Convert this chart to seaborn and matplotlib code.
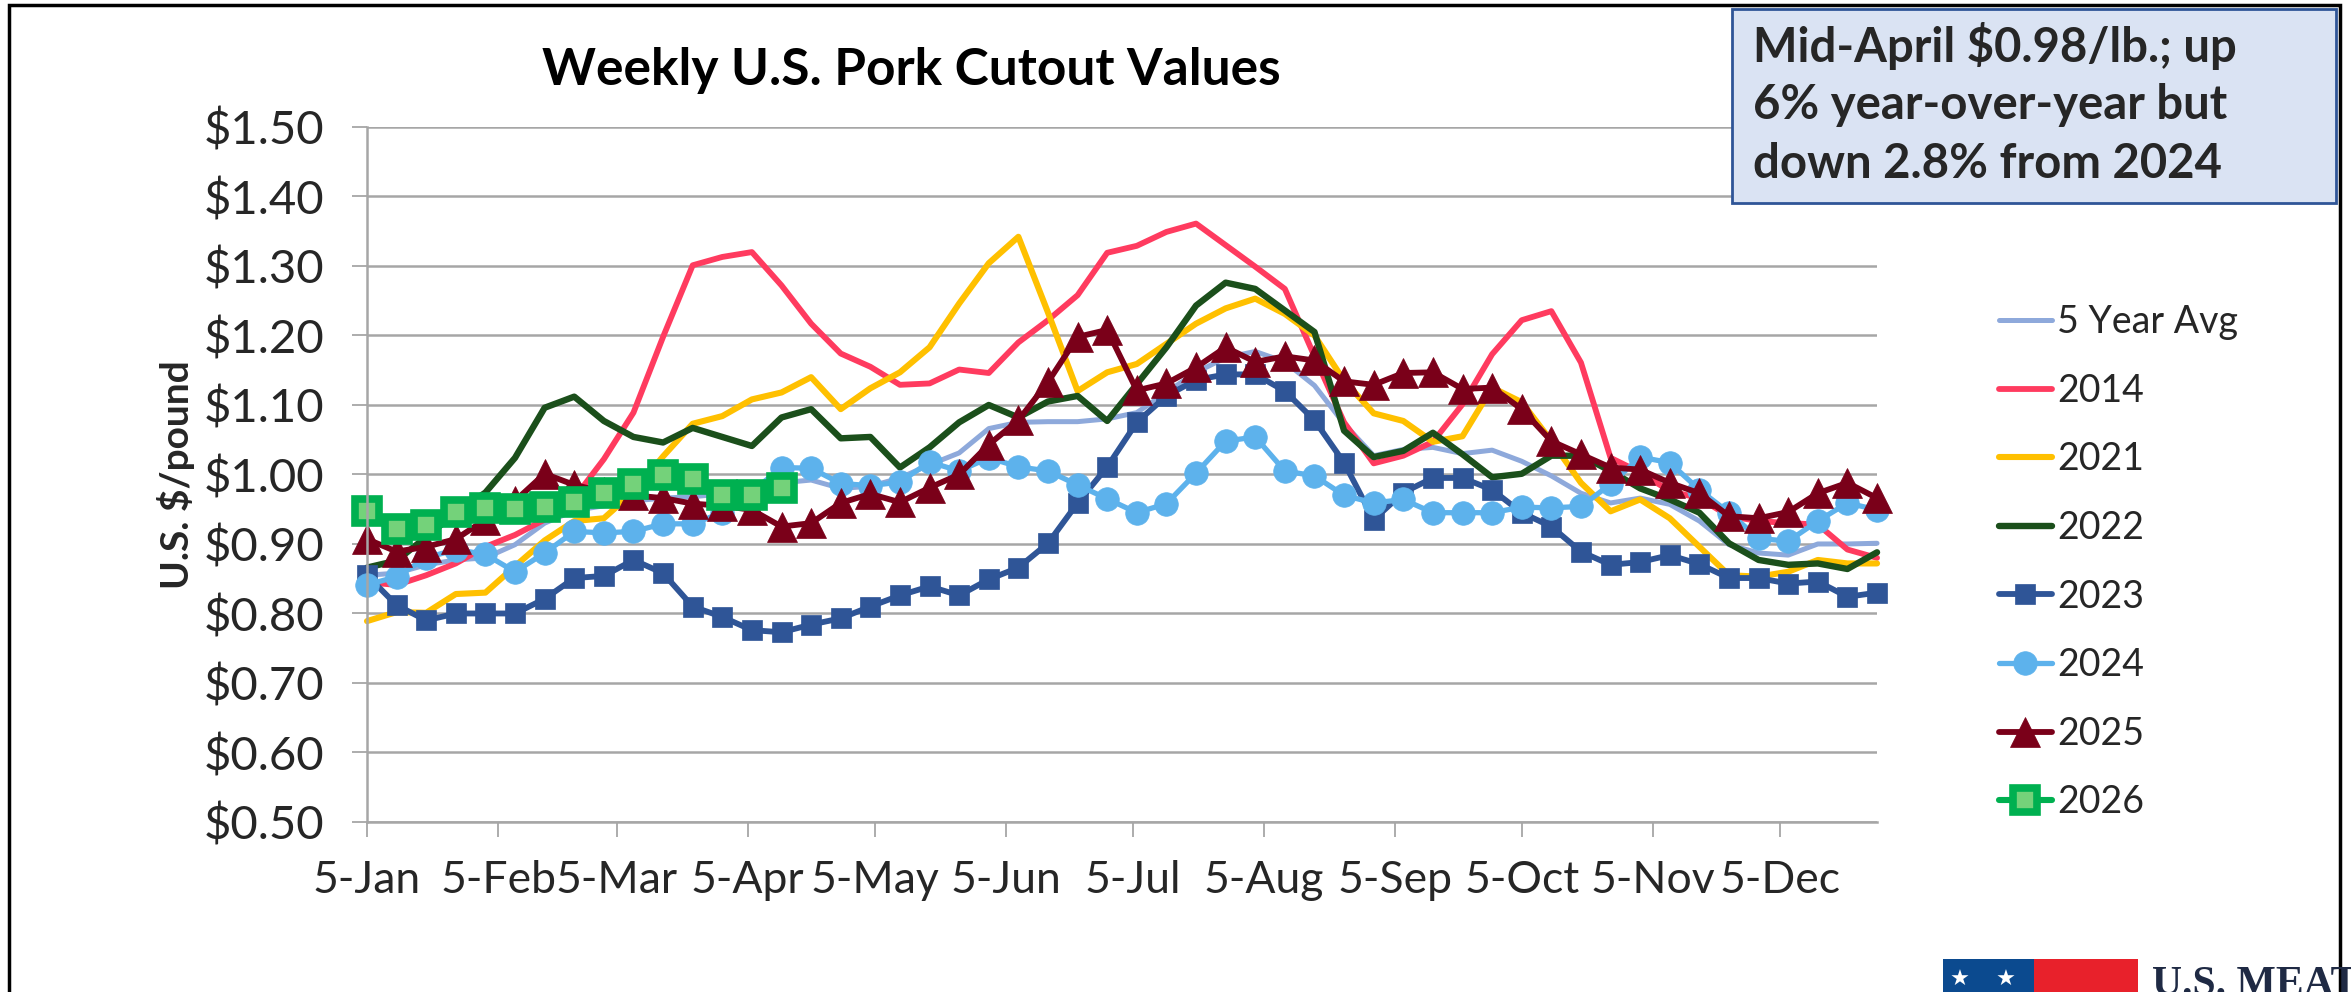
import numpy as np
import pandas as pd
import matplotlib
matplotlib.use('Agg')
import matplotlib.pyplot as plt
from matplotlib.patches import Rectangle
import seaborn as sns

# ── Data (weekly) ───────────────────────────────────────────
weeks = pd.date_range('2025-01-05', periods=52, freq='7D')
month_ticks = pd.to_datetime([f'2025-{m:02d}-05' for m in range(1, 13)])
month_labels = ['5-Jan', '5-Feb', '5-Mar', '5-Apr', '5-May', '5-Jun',
                '5-Jul', '5-Aug', '5-Sep', '5-Oct', '5-Nov', '5-Dec']
y_ticks = [0.5, 0.6, 0.7, 0.8, 0.9, 1.0, 1.1, 1.2, 1.3, 1.4, 1.5]

avg_5yr = [0.855, 0.858, 0.870, 0.877, 0.880, 0.899, 0.930, 0.948, 0.955, 0.962,
           0.966, 0.968, 0.972, 0.978, 0.988, 0.992, 0.980, 0.983, 0.995, 1.014,
           1.031, 1.066, 1.075, 1.076, 1.076, 1.080, 1.089, 1.118, 1.147, 1.168,
           1.177, 1.162, 1.128, 1.073, 1.027, 1.036, 1.039, 1.030, 1.035, 1.019,
           0.998, 0.973, 0.959, 0.966, 0.957, 0.933, 0.899, 0.887, 0.884, 0.900,
           0.900, 0.901]
y2014 = [0.845, 0.841, 0.855, 0.872, 0.896, 0.913, 0.935, 0.966, 1.022, 1.089,
         1.198, 1.301, 1.313, 1.320, 1.272, 1.217, 1.174, 1.155, 1.129, 1.131,
         1.151, 1.146, 1.190, 1.222, 1.258, 1.319, 1.329, 1.349, 1.361, 1.330,
         1.299, 1.267, 1.170, 1.075, 1.016, 1.027, 1.047, 1.101, 1.173, 1.222,
         1.235, 1.161, 1.024, 1.003, 0.976, 0.966, 0.940, 0.933, 0.930, 0.928,
         0.892, 0.880]
y2021 = [0.789, 0.802, 0.801, 0.828, 0.830, 0.868, 0.905, 0.933, 0.937, 0.975,
         1.026, 1.073, 1.084, 1.108, 1.118, 1.140, 1.094, 1.124, 1.147, 1.183,
         1.246, 1.304, 1.342, 1.233, 1.120, 1.147, 1.159, 1.188, 1.217, 1.239,
         1.253, 1.231, 1.200, 1.135, 1.088, 1.077, 1.047, 1.055, 1.125, 1.104,
         1.048, 0.988, 0.947, 0.964, 0.937, 0.896, 0.855, 0.853, 0.860, 0.877,
         0.872, 0.872]
y2022 = [0.866, 0.876, 0.910, 0.945, 0.974, 1.024, 1.096, 1.112, 1.077, 1.054,
         1.046, 1.067, 1.054, 1.041, 1.082, 1.094, 1.052, 1.054, 1.010, 1.039,
         1.075, 1.100, 1.082, 1.105, 1.113, 1.077, 1.130, 1.183, 1.243, 1.276,
         1.267, 1.236, 1.205, 1.063, 1.025, 1.034, 1.060, 1.029, 0.996, 1.001,
         1.027, 1.027, 1.005, 0.980, 0.964, 0.945, 0.901, 0.877, 0.870, 0.872,
         0.864, 0.888]
y2023 = [0.855, 0.812, 0.790, 0.800, 0.800, 0.800, 0.821, 0.851, 0.854, 0.877,
         0.858, 0.810, 0.795, 0.776, 0.773, 0.784, 0.793, 0.810, 0.826, 0.839,
         0.826, 0.849, 0.866, 0.901, 0.959, 1.011, 1.075, 1.113, 1.136, 1.144,
         1.144, 1.120, 1.078, 1.017, 0.935, 0.974, 0.995, 0.995, 0.978, 0.945,
         0.925, 0.889, 0.870, 0.874, 0.884, 0.871, 0.851, 0.851, 0.843, 0.846,
         0.824, 0.830]
y2024 = [0.841, 0.853, 0.880, 0.892, 0.885, 0.860, 0.887, 0.918, 0.916, 0.918,
         0.929, 0.929, 0.945, 0.975, 1.010, 1.009, 0.987, 0.984, 0.989, 1.018,
         1.005, 1.024, 1.011, 1.005, 0.985, 0.965, 0.945, 0.958, 1.002, 1.048,
         1.054, 1.005, 0.998, 0.970, 0.959, 0.964, 0.945, 0.945, 0.945, 0.953,
         0.952, 0.954, 0.986, 1.025, 1.017, 0.978, 0.945, 0.908, 0.904, 0.933,
         0.959, 0.949]
y2025 = [0.907, 0.889, 0.896, 0.907, 0.935, 0.962, 1.001, 0.985, 0.975, 0.970,
         0.966, 0.958, 0.955, 0.949, 0.925, 0.930, 0.959, 0.972, 0.960, 0.981,
         1.000, 1.043, 1.078, 1.133, 1.198, 1.208, 1.121, 1.131, 1.154, 1.183,
         1.162, 1.170, 1.164, 1.134, 1.129, 1.146, 1.147, 1.123, 1.125, 1.094,
         1.048, 1.029, 1.010, 1.007, 0.988, 0.973, 0.940, 0.937, 0.946, 0.973,
         0.988, 0.966]
y2026 = [0.947, 0.922, 0.928, 0.946, 0.952, 0.951, 0.953, 0.960, 0.974, 0.987,
         0.999, 0.994, 0.970, 0.971, 0.980]

# name, values, line colour, width, marker, marker size, marker face, edge width
series = [
    ('5 Year Avg', avg_5yr, '#8EA9DB', 3.6, None, 0,  None,      0),
    ('2014',       y2014,   '#FF3B5F', 4.2, None, 0,  None,      0),
    ('2021',       y2021,   '#FFC000', 4.4, None, 0,  None,      0),
    ('2022',       y2022,   '#1B4F1B', 4.6, None, 0,  None,      0),
    ('2023',       y2023,   '#2F5597', 4.2, 's',  15, '#2F5597', 0.5),
    ('2024',       y2024,   '#5DB2EC', 3.8, 'o',  17, '#5DB2EC', 0.5),
    ('2025',       y2025,   '#7A0019', 4.2, '^',  21, '#7A0019', 0.5),
    ('2026',       y2026,   '#00B050', 4.4, 's',  17, '#74D27A', 5.5),
]

sns.set_style('white')
plt.rcParams['font.family'] = ['Lato', 'DejaVu Sans']

fig = plt.figure(figsize=(23.51, 9.92), dpi=100)
ax = fig.add_axes([0.1561, 0.1714, 0.6423, 0.7006])

for name, vals, col, lw, mk, ms, mfc, mew in series:
    kws = dict(color=col, linewidth=lw, label=name, ax=ax, clip_on=False)
    if mk:
        kws.update(marker=mk, markersize=ms, markerfacecolor=mfc,
                   markeredgecolor=col, markeredgewidth=mew)
    sns.lineplot(x=weeks[:len(vals)], y=vals, **kws)

# ── Axes styling ─────────────────────────────────────────────
grid_col = '#A6A6A6'
ax.set_ylim(0.5, 1.5)
ax.set_yticks(y_ticks)
ax.set_yticklabels([f'${v:.2f}' for v in y_ticks])
ax.set_xlim(weeks[0], weeks[-1])
ax.set_xticks(month_ticks)
ax.set_xticklabels(month_labels)
ax.yaxis.grid(True, color=grid_col, linewidth=1.8)
ax.xaxis.grid(False)
for s in ['top', 'right']:
    ax.spines[s].set_visible(False)
for s in ['left', 'bottom']:
    ax.spines[s].set_color(grid_col)
    ax.spines[s].set_linewidth(1.8)
ax.tick_params(axis='x', direction='out', length=10.5, width=1.3, color=grid_col,
               labelsize=32, pad=17, bottom=True)
ax.tick_params(axis='y', direction='out', length=10.5, width=1.3, color=grid_col,
               labelsize=34, pad=20, left=True)
ax.set_xlabel('')
ax.set_ylabel('U.S. $/pound', fontsize=28, fontweight='bold')
ax.yaxis.set_label_coords(-0.114, 0.5)

ax.legend(loc='upper left', bbox_to_anchor=(0.8503, 0.6935), bbox_transform=fig.transFigure,
          frameon=False, fontsize=27, handlelength=1.4, handletextpad=0.15,
          labelspacing=0.87, borderpad=0, borderaxespad=0)

# ── Title, note box, frame, logo ─────────────────────────────
fig.text(0.3875, 0.9294, 'Weekly U.S. Pork Cutout Values', ha='center', va='center',
         fontsize=37, fontweight='bold', color='black')

fig.patches.append(Rectangle((0.7367, 0.7954), 0.2569, 0.1956, transform=fig.transFigure,
                             facecolor='#DAE3F3', edgecolor='#2F5597', linewidth=2))
note_lines = ['Mid-April $0.98/lb.; up', '6% year-over-year but', 'down 2.8% from 2024']
for i, line in enumerate(note_lines):
    fig.text(0.7456, 1 - (46 + 59 * i) / 992, line, ha='left', va='center',
             fontsize=34, fontweight='bold', color='#262626')

fig.patches.append(Rectangle((9 / 2351, -0.1), 2331 / 2351, 1.1 - 5 / 992,
                             transform=fig.transFigure, fill=False,
                             edgecolor='black', linewidth=2.5))

fig.patches.append(Rectangle((0.8265, 0), 0.0387, 0.0333, transform=fig.transFigure,
                             facecolor='#0B4A8F', edgecolor='none'))
fig.patches.append(Rectangle((0.8652, 0), 0.0442, 0.0333, transform=fig.transFigure,
                             facecolor='#E8212B', edgecolor='none'))
for sx in [0.8335, 0.8530]:
    fig.text(sx, 0.012, '★', color='white', fontsize=16, ha='center', va='center',
             family='DejaVu Sans')
fig.text(2152 / 2351, 1 - 966 / 992, 'U.S. MEAT', ha='left', va='top',
         fontsize=30, fontweight='bold', family='Liberation Serif', color='#1F2A44')

plt.savefig('out.png', dpi=100)
